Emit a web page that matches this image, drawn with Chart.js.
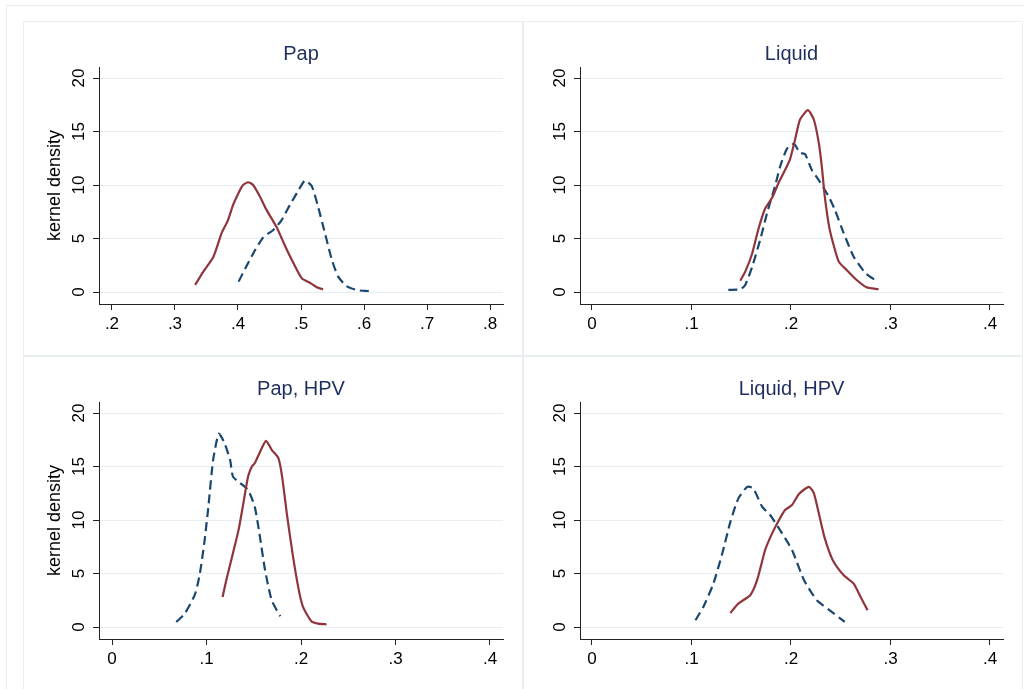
<!DOCTYPE html>
<html>
<head>
<meta charset="utf-8">
<script src="https://cdn.jsdelivr.net/npm/chart.js@4"></script>
<style>
  html, body { margin: 0; padding: 0; background: #fff; }
  body { width: 1024px; height: 689px; overflow: hidden; position: relative; }
  #frame { position: absolute; left: 6px; top: 5px; width: 1030px; height: 700px; border: 1px solid #e8eef0; }
  canvas { position: absolute; outline: 1px solid #e8eef0; outline-offset: -1px; }
</style>
</head>
<body>
<div id="frame"></div>
<canvas id="c1" width="500" height="335" style="left:23px; top:21px;"></canvas>
<canvas id="c2" width="500" height="335" style="left:523px; top:21px;"></canvas>
<canvas id="c3" width="500" height="335" style="left:23px; top:356px;"></canvas>
<canvas id="c4" width="500" height="335" style="left:523px; top:356px;"></canvas>
<script>
// panel titles
const titles = ['Pap', 'Liquid', 'Pap, HPV', 'Liquid, HPV'];

// tick labels
const xTicksPap = [0.2, 0.3, 0.4, 0.5, 0.6, 0.7, 0.8];
const xTicksRest = [0, 0.1, 0.2, 0.3, 0.4];
const yTicks = [0, 5, 10, 15, 20];

// Pap
const papSolidX = [.332, .345, .361, .374, .384, .392, .403, .408, .416, .424, .435, .445, .461, .474, .488, .501, .514, .525, .535];
const papSolidY = [0.66, 1.9, 3.3, 5.5, 6.7, 8.1, 9.5, 10.0, 10.26, 10.0, 8.9, 7.7, 6.1, 4.4, 2.7, 1.3, 0.87, 0.44, 0.25];
const papDashX = [.401, .413, .427, .440, .456, .469, .482, .496, .506, .517, .527, .538, .549, .559, .572, .588, .602, .615];
const papDashY = [0.97, 2.37, 3.9, 5.1, 5.8, 6.7, 8.1, 9.5, 10.4, 9.9, 8.0, 5.5, 3.0, 1.44, 0.56, 0.19, 0.1, 0.1];

// Liquid
const liqSolidX = [.149, .154, .161, .167, .174, .181, .188, .194, .199, .204, .209, .217, .223, .228, .231, .234, .239, .248, .256, .266, .276, .288];
const liqSolidY = [1.06, 1.9, 3.6, 5.8, 7.8, 8.8, 10.3, 11.4, 12.4, 14.2, 16.1, 17.0, 16.1, 13.9, 11.7, 8.9, 5.8, 2.84, 2.06, 1.12, 0.44, 0.25];
const liqDashX = [.137, .149, .154, .161, .169, .176, .184, .189, .196, .203, .209, .214, .221, .229, .238, .244, .253, .263, .275, .286];
const liqDashY = [0.19, 0.25, 0.66, 2.37, 4.87, 7.4, 9.9, 11.7, 13.4, 13.85, 13.0, 12.9, 11.4, 10.3, 8.9, 7.7, 5.5, 3.3, 1.75, 1.03];

// Pap, HPV
const papHpvSolidX = [.117, .121, .128, .134, .139, .144, .148, .151, .156, .163, .169, .176, .180, .185, .191, .197, .202, .211, .218, .227];
const papHpvSolidY = [2.8, 4.4, 6.9, 9.1, 11.56, 14.06, 15.0, 15.3, 16.25, 17.4, 16.56, 15.8, 14.06, 10.6, 6.9, 3.75, 1.9, 0.53, 0.31, 0.25];
const papHpvDashX = [.068, .077, .088, .093, .098, .102, .107, .113, .119, .125, .128, .135, .144, .151, .156, .162, .169, .178];
const papHpvDashY = [0.47, 1.25, 3.1, 5.0, 8.1, 11.25, 15.6, 18.06, 17.2, 15.6, 14.06, 13.5, 12.8, 11.25, 8.75, 5.3, 2.5, 1.0];

// Liquid, HPV
const liqHpvSolidX = [.139, .147, .159, .166, .174, .181, .187, .194, .201, .208, .218, .223, .228, .234, .242, .253, .263, .270, .277];
const liqHpvSolidY = [1.31, 2.19, 2.97, 4.4, 7.2, 8.75, 9.84, 10.94, 11.4, 12.44, 13.1, 12.5, 10.6, 8.28, 6.25, 4.84, 4.06, 2.8, 1.56];
const liqHpvDashX = [.104, .112, .122, .131, .139, .147, .156, .162, .171, .179, .189, .201, .213, .226, .239, .254];
const liqHpvDashY = [0.63, 1.9, 4.06, 6.9, 9.8, 12.0, 13.1, 12.97, 11.25, 10.47, 9.06, 7.2, 4.4, 2.5, 1.56, 0.47];

const maroon = '#90353b';
const navy = '#1a476f';
const font = 'Liberation Sans, Arial, sans-serif';

function pts(xs, ys) {
    return xs.map((x, i) => ({x: x, y: ys[i]}));
}

function tickText(v) {
    return v === 0 ? '0' : String(v).replace(/^0\./, '.');
}

function makePanel(id, title, solid, dashed, xTicks, xMin, xMax, yTitle) {
    const ctx = document.getElementById(id).getContext('2d');
    return new Chart(ctx, {
        type: 'scatter',
        data: {
            datasets: [{
                data: solid,
                showLine: true,
                borderColor: maroon,
                borderWidth: 2.2,
                pointRadius: 0,
                tension: 0.2,
            }, {
                data: dashed,
                showLine: true,
                borderColor: navy,
                borderWidth: 2.2,
                borderDash: [9, 5],
                pointRadius: 0,
                tension: 0.2,
            }]
        },
        options: {
            responsive: false,
            animation: false,
            events: [],
            layout: { padding: { left: 0, right: 20, top: 0, bottom: 0 } },
            plugins: {
                legend: { display: false },
                tooltip: { enabled: false },
                title: {
                    display: true,
                    text: title,
                    fullSize: false,
                    color: '#1e2f5e',
                    font: { family: font, size: 20, weight: 'normal' },
                    padding: { top: 21, bottom: 1 },
                },
            },
            scales: {
                x: {
                    type: 'linear',
                    min: xMin,
                    max: xMax,
                    afterBuildTicks: axis => { axis.ticks = xTicks.map(v => ({value: v})); },
                    afterFit: axis => { axis.height = 52; },
                    border: { display: true, color: '#222', width: 1 },
                    grid: { drawOnChartArea: false, drawTicks: true, tickLength: 6, tickColor: '#222' },
                    ticks: {
                        color: '#000',
                        padding: 4,
                        maxRotation: 0,
                        font: { family: font, size: 17 },
                        callback: v => tickText(v),
                    }
                },
                y: {
                    min: -1.121,
                    max: 21.03,
                    afterBuildTicks: axis => { axis.ticks = yTicks.map(v => ({value: v})); },
                    afterFit: axis => { axis.width = yTitle ? 76 : 57; },
                    border: { display: true, color: '#222', width: 1 },
                    grid: { color: '#e6eef1', lineWidth: 1, drawTicks: true, tickLength: 6, tickColor: '#222' },
                    ticks: {
                        color: '#000',
                        padding: 4,
                        minRotation: 90,
                        maxRotation: 90,
                        crossAlign: 'center',
                        font: { family: font, size: 17 },
                        callback: v => tickText(v),
                    },
                    title: {
                        display: !!yTitle,
                        text: yTitle,
                        color: '#000',
                        padding: { top: 21, bottom: 0 },
                        font: { family: font, size: 18 },
                    }
                }
            }
        }
    });
}

makePanel('c1', titles[0], pts(papSolidX, papSolidY), pts(papDashX, papDashY), xTicksPap, 0.1794, 0.8206, 'kernel density');
makePanel('c2', titles[1], pts(liqSolidX, liqSolidY), pts(liqDashX, liqDashY), xTicksRest, -0.01206, 0.41307, '');
makePanel('c3', titles[2], pts(papHpvSolidX, papHpvSolidY), pts(papHpvDashX, papHpvDashY), xTicksRest, -0.01376, 0.41376, 'kernel density');
makePanel('c4', titles[3], pts(liqHpvSolidX, liqHpvSolidY), pts(liqHpvDashX, liqHpvDashY), xTicksRest, -0.01206, 0.41307, '');
</script>
</body>
</html>
